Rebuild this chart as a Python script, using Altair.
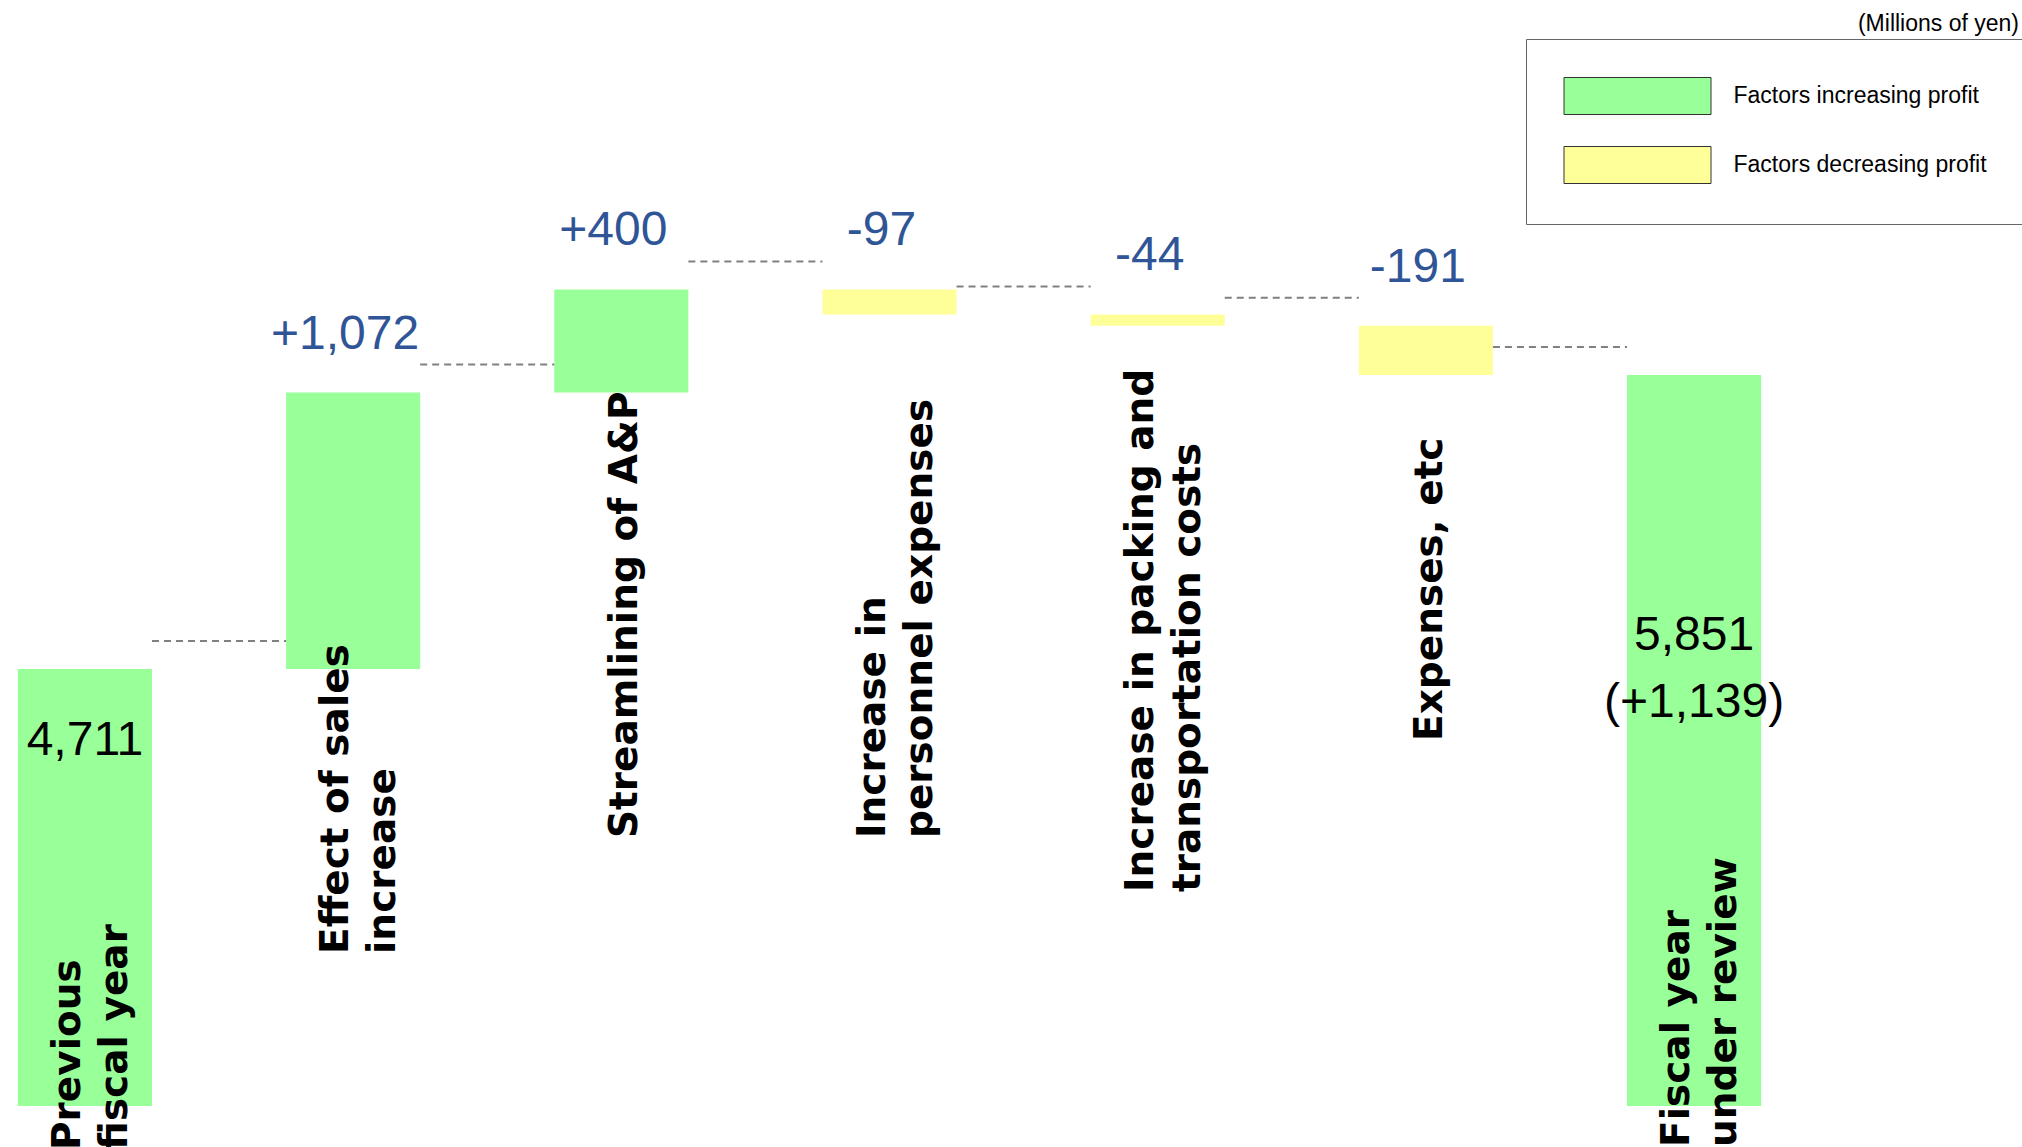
import altair as alt
import pandas as pd

# ---------------- data ----------------
categories = [
    "Previous fiscal year",
    "Effect of sales increase",
    "Streamlining of A&P",
    "Increase in personnel expenses",
    "Increase in packing and transportation costs",
    "Expenses, etc",
    "Fiscal year under review",
]
label_lines = [
    "Previous\nfiscal year",
    "Effect of sales\nincrease",
    "Streamlining of A&P",
    "Increase in\npersonnel expenses",
    "Increase in packing and\ntransportation costs",
    "Expenses, etc",
    "Fiscal year\nunder review",
]
kinds = ["total", "delta", "delta", "delta", "delta", "delta", "total"]
amounts = [4711, 1072, 400, -97, -44, -191, 5851]
total_change = [None, None, None, None, None, None, 1139]
legend_labels = ["Factors increasing profit", "Factors decreasing profit"]
unit_note = "(Millions of yen)"

# ---------------- layout / style ----------------
GREEN = "#99FF99"
YELLOW = "#FFFF99"
BLUE = "#2F5597"
LABEL_BOTTOM_PX = [1110, 914, 798, 798, 852, 701, 1107]   # where each rotated label starts
TOTAL_LABEL_DY = {0: 86, 6: 275}

# ---------------- derived table ----------------
rows = []
running = 0
for i, (c, k, a) in enumerate(zip(categories, kinds, amounts)):
    if k == "total":
        start, end = 0, a
        running = a
    else:
        start, end = running, running + a
        running = end
    if k == "total":
        txt = f"{a:,}"
        if total_change[i] is not None:
            txt += f"\n(+{total_change[i]:,})"
    else:
        txt = f"{a:+,}"
    rows.append(dict(
        category=c, label=label_lines[i], kind=k, amount=a,
        start=start, end=end, top=max(start, end), txt=txt,
        effect=legend_labels[0] if a >= 0 else legend_labels[1],
        label_px=LABEL_BOTTOM_PX[i], idx=i,
        multi="\n" in label_lines[i],
    ))
df = pd.DataFrame(rows)

conn = pd.DataFrame([
    dict(frm=categories[i], to=categories[i + 1], level=df["end"][i])
    for i in range(len(categories) - 1)
])

x_scale = alt.Scale(domain=categories, range=[0, 1779], paddingInner=0.5, paddingOuter=0.0667)
y_scale = alt.Scale(domain=[3016.5, 7150], clamp=True, nice=False, zero=False)

base = alt.Chart(df)

bars = base.mark_bar().encode(
    x=alt.X("category:N", scale=x_scale, axis=None),
    y=alt.Y("end:Q", scale=y_scale, axis=None),
    y2="start:Q",
    color=alt.Color(
        "effect:N",
        scale=alt.Scale(domain=legend_labels, range=[GREEN, YELLOW]),
        legend=alt.Legend(
            title=None, orient="none", legendX=1526, legendY=-1,
            symbolType="M-3.973,-1H3.973V1H-3.973Z", symbolSize=1369,
            symbolOffset=54.5,
            symbolStrokeColor="#333333", symbolStrokeWidth=1,
            labelFont="Liberation Sans", labelFontSize=23, labelColor="black",
            labelOffset=77, rowPadding=27, padding=38, strokeColor="#666666",
            labelLimit=600,
        ),
    ),
)

rules = alt.Chart(conn).mark_rule(
    strokeDash=[7, 5], color="#808080", strokeWidth=2, yOffset=-28
).encode(
    x=alt.X("frm:N", scale=x_scale, bandPosition=1, axis=None),
    x2=alt.X2("to:N", bandPosition=0),
    y=alt.Y("level:Q", scale=y_scale, axis=None),
)

delta_labels = base.transform_filter("datum.kind == 'delta'").mark_text(
    font="Liberation Sans", fontSize=48, color=BLUE, baseline="alphabetic",
    align="center", dy=-44, dx=-8,
).encode(
    x=alt.X("category:N", scale=x_scale, axis=None),
    y=alt.Y("top:Q", scale=y_scale, axis=None),
    text="txt:N",
)

total_layers = []
for i, dy in TOTAL_LABEL_DY.items():
    total_layers.append(
        base.transform_filter(f"datum.idx == {i}").mark_text(
            font="Liberation Sans", fontSize=48, color="black", baseline="alphabetic",
            align="center", dy=dy, lineBreak="\n", lineHeight=67,
        ).encode(
            x=alt.X("category:N", scale=x_scale, axis=None),
            y=alt.Y("top:Q", scale=y_scale, axis=None),
            text="txt:N",
        )
    )

cat_layers = []
for is_multi, dy in ((False, 4), (True, -17)):
    cat_layers.append(
        base.transform_filter(f"datum.multi == {str(is_multi).lower()}").mark_text(
            font="DejaVu Sans", fontWeight="bold", fontSize=39, color="black",
            angle=270, align="left", baseline="middle", lineBreak="\n",
            lineHeight=47, dy=dy,
        ).encode(
            x=alt.X("category:N", scale=x_scale, axis=None),
            y=alt.Y("label_px:Q", scale=None, axis=None),
            text="label:N",
        )
    )

chart = alt.layer(bars, rules, delta_labels, *total_layers, *cat_layers).properties(
    width=2022, height=1066,
    padding={"top": 40, "bottom": 41, "left": 0, "right": 0},
    autosize=alt.AutoSizeParams(type="none"),
    background="white",
    title=alt.Title(unit_note, anchor="end", frame="group", fontSize=23,
                    font="Liberation Sans", fontWeight="normal", color="black",
                    offset=3, dx=-3),
).configure_view(strokeWidth=0)

chart.save("out.html", embed_options={"renderer": "svg", "actions": False})
